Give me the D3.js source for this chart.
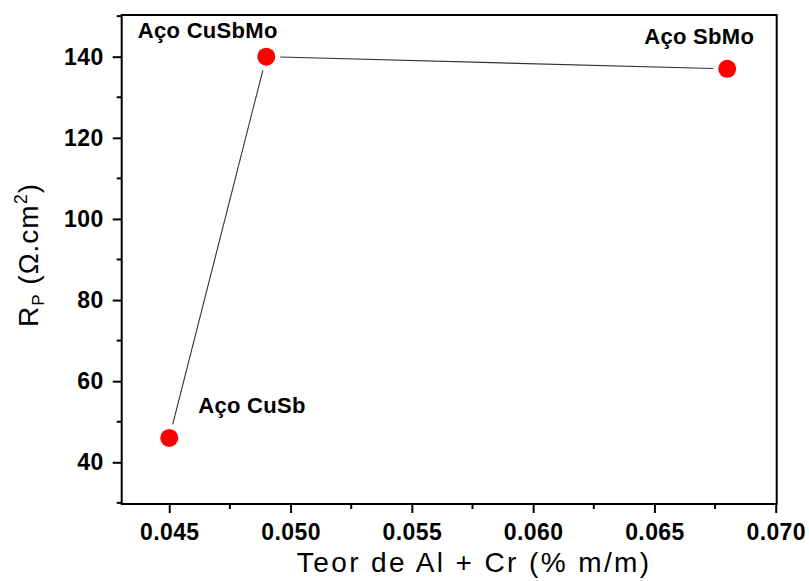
<!DOCTYPE html>
<html>
<head>
<meta charset="utf-8">
<script src="https://cdn.jsdelivr.net/npm/d3@7"></script>
<style>
  html, body { margin: 0; padding: 0; background: #fff; }
  svg { display: block; }
  text { font-family: "Liberation Sans", Arial, sans-serif; fill: #000; }
</style>
</head>
<body>
<svg id="chart" width="809" height="581"></svg>
<script>
// Steel grades and their Al + Cr content vs. polarization resistance
const steels = ["Aço CuSb", "Aço CuSbMo", "Aço SbMo"];
const alCr = [0.045, 0.049, 0.068];
const rp = [46, 140, 137];

const xTicks = [0.045, 0.050, 0.055, 0.060, 0.065, 0.070];
const yTicks = [40, 60, 80, 100, 120, 140];

const plot = { left: 121.7, right: 776.7, top: 15, bottom: 504 };

const svg = d3.select("#chart");

const x = d3.scaleLinear().domain([0.04304, 0.07004]).range([plot.left, plot.right]);
const y = d3.scaleLinear().domain([29.72, 150.28]).range([plot.bottom, plot.top]);

// Frame
svg.append("rect")
  .attr("x", plot.left).attr("y", plot.top)
  .attr("width", plot.right - plot.left).attr("height", plot.bottom - plot.top)
  .attr("fill", "none").attr("stroke", "#000").attr("stroke-width", 2);

// Minor ticks
const xMinor = d3.range(0.0425, 0.0705, 0.0025).filter(v => v > 0.0431 && v < 0.0701 && Math.abs((v * 1000) % 5) > 0.1);
const yMinor = d3.range(30, 151, 10).filter(v => v % 20 !== 0 && v > 29.8 && v < 150.2);

svg.append("g").selectAll("line").data(xMinor).join("line")
  .attr("x1", d => x(d)).attr("x2", d => x(d))
  .attr("y1", plot.bottom).attr("y2", plot.bottom + 5)
  .attr("stroke", "#000").attr("stroke-width", 2);

svg.append("g").selectAll("line").data(yMinor).join("line")
  .attr("y1", d => y(d)).attr("y2", d => y(d))
  .attr("x1", plot.left).attr("x2", plot.left - 5)
  .attr("stroke", "#000").attr("stroke-width", 2);

// Axes with major ticks
const xAxis = d3.axisBottom(x).tickValues(xTicks).tickFormat(d3.format(".3f")).tickSize(9).tickPadding(6);
const yAxis = d3.axisLeft(y).tickValues(yTicks).tickFormat(d3.format("d")).tickSize(9).tickPadding(9);

const gx = svg.append("g").attr("transform", `translate(0,${plot.bottom})`).call(xAxis);
const gy = svg.append("g").attr("transform", `translate(${plot.left},0)`).call(yAxis);

[gx, gy].forEach(g => {
  g.attr("font-size", null).attr("font-family", null);
  g.select(".domain").remove();
  g.selectAll(".tick line").attr("stroke", "#000").attr("stroke-width", 2);
  g.selectAll(".tick text")
    .attr("fill", "#000")
    .attr("font-family", "'Liberation Sans', Arial, sans-serif")
    .attr("font-size", 23)
    .attr("font-weight", "bold")
    .attr("letter-spacing", 0.4);
});
gx.selectAll(".tick text").attr("dy", "0.9em");
gy.selectAll(".tick text").attr("dy", "0.32em");

// Connecting line, trimmed short of each marker
const pts = alCr.map((v, i) => [x(v), y(rp[i])]);
const gap = 14;
const segs = d3.pairs(pts).map(([a, b]) => {
  const dx = b[0] - a[0], dy = b[1] - a[1];
  const len = Math.hypot(dx, dy);
  const ux = dx / len, uy = dy / len;
  return [a[0] + ux * gap, a[1] + uy * gap, b[0] - ux * gap, b[1] - uy * gap];
});
svg.append("g").selectAll("line").data(segs).join("line")
  .attr("x1", d => d[0]).attr("y1", d => d[1])
  .attr("x2", d => d[2]).attr("y2", d => d[3])
  .attr("stroke", "#333").attr("stroke-width", 1.1);

// Markers
svg.append("g").selectAll("circle").data(alCr).join("circle")
  .attr("cx", d => x(d)).attr("cy", (d, i) => y(rp[i]))
  .attr("r", 9)
  .attr("fill", "#ff0000");

// Point labels
const labelOffsets = [[29, -25], [-128.5, -18.5], [-83, -25]];
svg.append("g").selectAll("text").data(steels).join("text")
  .attr("x", (d, i) => x(alCr[i]) + labelOffsets[i][0])
  .attr("y", (d, i) => y(rp[i]) + labelOffsets[i][1])
  .style("font-size", "22px")
  .style("font-weight", "bold")
  .style("letter-spacing", "0.3px")
  .text(d => d);

// Axis titles
svg.append("text")
  .attr("x", (plot.left + plot.right) / 2 + 25)
  .attr("y", 572)
  .attr("text-anchor", "middle")
  .style("font-size", "28px")
  .style("letter-spacing", "2.4px")
  .text("Teor de Al + Cr (% m/m)");

const yt = svg.append("text")
  .attr("transform", `translate(38,255) rotate(-90)`)
  .attr("text-anchor", "middle")
  .style("font-size", "28px")
  .style("letter-spacing", "1px");
yt.append("tspan").text("R");
yt.append("tspan").attr("dy", 6).style("font-size", "17px").text("P");
yt.append("tspan").attr("dy", -6).text(" (Ω.cm");
yt.append("tspan").attr("dy", -11).style("font-size", "18px").text("2");
yt.append("tspan").attr("dy", 11).text(")");
</script>
</body>
</html>
